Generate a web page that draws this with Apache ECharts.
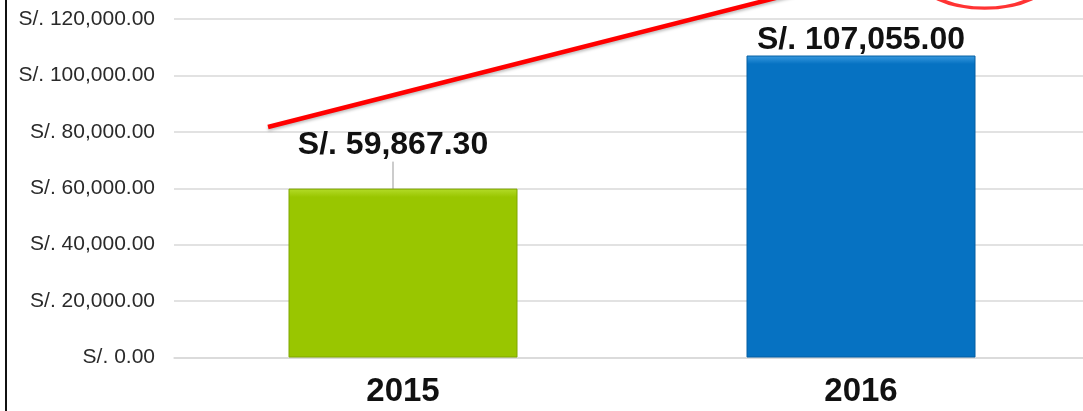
<!DOCTYPE html>
<html>
<head>
<meta charset="utf-8">
<script src="https://cdn.jsdelivr.net/npm/echarts@6/dist/echarts.min.js"></script>
<style>
    html, body {margin: 0; padding: 0; background: #fff;}
    #chart {position: absolute; left: 0; top: 0; width: 1083px; height: 411px;}
    #borde {position: absolute; left: 5px; top: 0; width: 2px; height: 411px; background: #111;}
</style>
</head>
<body>
<div id="chart"></div>
<div id="borde"></div>
<script>
//datos
var anios = ['2015', '2016'];
var ventas = [59867.30, 107055.00];
var colores = [['#b4dc2a', '#99c600', '#7fa600'], ['#3a9be0', '#0672c2', '#055fa3']];
var ejeMin = 0;
var ejeMax = 120000;
var ejePaso = 20000;
// linea roja de tendencia y circulo (eje x auxiliar 0..1)
var lineaRoja = [[0.1026, 81700], [0.6834, 129650]];
var circuloRojo = [[0.885, 134500]];

var fmt = function (v) {
    var partes = v.toFixed(2).split('.');
    partes[0] = partes[0].replace(/\B(?=(\d{3})+(?!\d))/g, ',');
    return 'S/. ' + partes.join('.');
};

var chart = echarts.init(document.getElementById('chart'));
var barras = ventas.map(function (v, i) {
    return {
        value: v,
        itemStyle: {
            color: new echarts.graphic.LinearGradient(0, 0, 0, 1, [
                {offset: 0, color: colores[i][0]},
                {offset: i === 0 ? 0.05 : 0.028, color: colores[i][1]},
                {offset: 1, color: colores[i][1]}
            ]),
            borderColor: colores[i][2],
            borderWidth: 1
        },
        label: {distance: i === 0 ? 5 : -1}
    };
});

chart.setOption({
    animation: false,
    grid: {left: 174, top: 19, width: 916, bottom: 53.5, containLabel: false, outerBoundsMode: 'none'},
    xAxis: [
        {
            type: 'category',
            data: anios,
            axisTick: {show: false},
            axisLine: {lineStyle: {color: '#d9d9d9', width: 1.5}},
            axisLabel: {
                margin: 18,
                color: '#111',
                fontSize: 33,
                fontWeight: 'bold',
                fontFamily: 'Liberation Sans, Arial, sans-serif'
            }
        },
        {type: 'value', min: 0, max: 1, show: false}
    ],
    yAxis: [{
        type: 'value',
        min: ejeMin,
        max: ejeMax,
        interval: ejePaso,
        axisLine: {show: false},
        axisTick: {show: false},
        splitLine: {lineStyle: {color: '#d9d9d9', width: 1.5}},
        axisLabel: {
            margin: 19,
            color: '#2a2a2a',
            fontSize: 21,
            fontFamily: 'Liberation Sans, Arial, sans-serif',
            formatter: fmt
        }
    }],
    series: [
        {
            type: 'bar',
            barWidth: '50%',
            data: barras,
            label: {
                show: true,
                position: 'top',
                color: '#111',
                fontSize: 32,
                fontWeight: 'bold',
                fontFamily: 'Liberation Sans, Arial, sans-serif',
                formatter: function (p) { return fmt(p.value); }
            },
            labelLine: {show: true, lineStyle: {color: '#999', width: 1}},
            labelLayout: function (p) {
                if (p.dataIndex === 0) {
                    return {dx: -10, dy: -22};
                }
                return {};
            }
        },
        {
            type: 'line',
            xAxisIndex: 1,
            data: lineaRoja,
            clip: false,
            symbol: 'none',
            lineStyle: {color: '#ff0000', width: 4.5, shadowColor: 'rgba(0,0,0,0.25)', shadowBlur: 3, shadowOffsetY: 2},
            z: 5
        },
        {
            type: 'scatter',
            xAxisIndex: 1,
            data: circuloRojo,
            clip: false,
            symbol: 'circle',
            symbolSize: [128, 60],
            itemStyle: {color: 'rgba(0,0,0,0)', borderColor: '#ff0000', borderWidth: 4.5},
            z: 5
        }
    ]
});
</script>
</body>
</html>
